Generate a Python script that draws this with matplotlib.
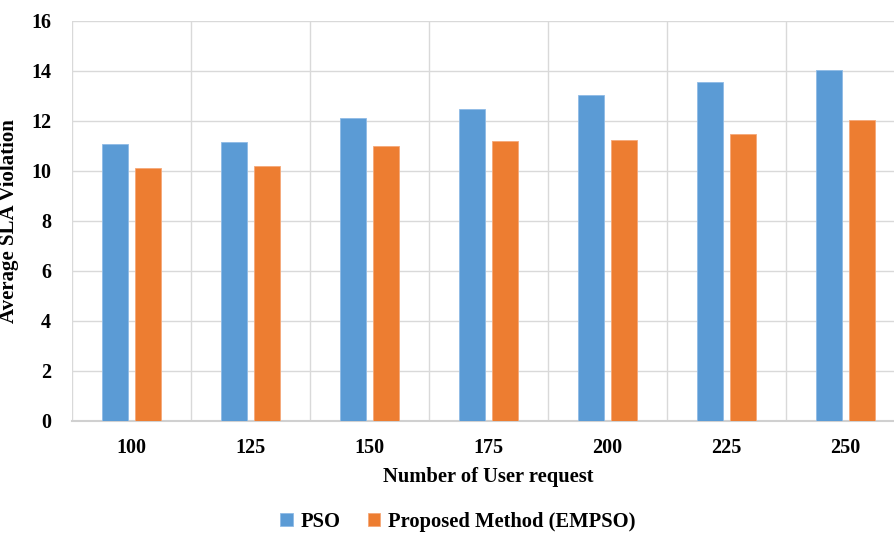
import matplotlib
matplotlib.use("Agg")
import matplotlib.pyplot as plt
import numpy as np

requests = ["100", "125", "150", "175", "200", "225", "250"]
pso = [11.1, 11.17, 12.11, 12.48, 13.05, 13.55, 14.03]
empso = [10.13, 10.2, 10.99, 11.19, 11.24, 11.49, 12.05]

BLUE = "#5B9BD5"
ORANGE = "#ED7D31"

plt.rcParams["font.family"] = ["Liberation Serif", "DejaVu Serif"]
plt.rcParams["font.weight"] = "bold"

fig = plt.figure(figsize=(8.95, 5.33), dpi=100)
# axes run a bit past the right edge, as in the reference
ax = fig.add_axes([72 / 895, 112 / 533, 833 / 895, 400 / 533])

x = np.arange(len(requests))
w = 0.224
off = 0.14
ax.bar(x - off, pso, w, color=BLUE, edgecolor="#8fbbe6", linewidth=0.6, label="PSO", zorder=3)
ax.bar(x + off, empso, w, color=ORANGE, edgecolor="#f5a878", linewidth=0.6,
       label="Proposed Method (EMPSO)", zorder=3)

ax.set_xlim(-0.5, len(requests) - 0.5)
ax.set_ylim(0, 16)
ax.set_yticks(np.arange(0, 17, 2))
ax.set_xticks(x)
ax.set_xticklabels(requests)
ax.set_xticks(np.arange(-0.5, len(requests), 1), minor=True)

ax.grid(axis="y", color="#d9d9d9", linewidth=1.0, zorder=0)
ax.grid(axis="x", which="minor", color="#d9d9d9", linewidth=1.0, zorder=0)
ax.tick_params(axis="both", which="both", length=0, labelsize=14.5)
ax.tick_params(axis="x", pad=12)
ax.tick_params(axis="y", pad=15)
for lab in ax.get_xticklabels() + ax.get_yticklabels():
    lab.set_fontweight("bold")

for side in ["top", "right", "left"]:
    ax.spines[side].set_visible(False)
ax.spines["bottom"].set_color("#d0d0d0")
ax.spines["bottom"].set_linewidth(1.5)

ax.set_xlabel("Number of User request", fontsize=14.8, fontweight="bold", labelpad=7)
ax.set_ylabel("Average SLA Violation", fontsize=15, fontweight="bold", labelpad=9)

fig.legend(loc="center", bbox_to_anchor=(458 / 895, 11 / 533), ncol=2, frameon=False,
           handlelength=0.6, handleheight=0.6, handletextpad=0.4,
           columnspacing=1.3, prop={"weight": "bold", "size": 14.8})

fig.savefig("out.png", dpi=100)
